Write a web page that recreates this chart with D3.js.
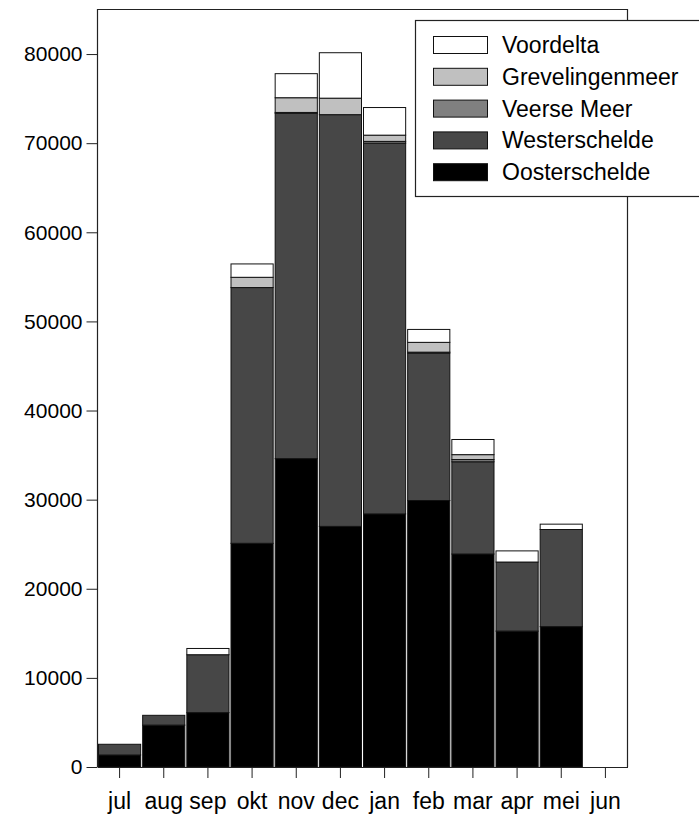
<!DOCTYPE html>
<html lang="en">
<head>
<meta charset="UTF-8">
<title>Maandtotalen per gebied</title>
<script src="https://cdnjs.cloudflare.com/ajax/libs/d3/7.8.2/d3.min.js"></script>
<style>
    body{ margin: 0; background: #fff; }
    svg{ display: block; font-family: Arial, "Liberation Sans", sans-serif; }
</style>
</head>
<body>
<div class="container"></div>
<script>
    // data
    const months = ['jul','aug','sep','okt','nov','dec','jan','feb','mar','apr','mei','jun'];
    const oosterschelde   = [1350, 4700, 6100, 25100, 34600, 27000, 28400, 29900, 23900, 15250, 15750, 0];
    const westerschelde   = [1200, 1100, 6500, 28700, 38750, 46200, 41600, 16550, 10350, 7750, 10900, 0];
    const veerseMeer      = [0, 0, 0, 0, 100, 0, 200, 100, 250, 0, 0, 0];
    const grevelingenmeer = [0, 0, 0, 1150, 1650, 1850, 700, 1100, 550, 0, 0, 0];
    const voordelta       = [0, 0, 700, 1500, 2700, 5100, 3100, 1450, 1700, 1250, 600, 0];
    const yTicks = [0, 10000, 20000, 30000, 40000, 50000, 60000, 70000, 80000];

    const series = [
        {key: 'Oosterschelde', values: oosterschelde, color: '#000000'},
        {key: 'Westerschelde', values: westerschelde, color: '#474747'},
        {key: 'Veerse Meer', values: veerseMeer, color: '#808080'},
        {key: 'Grevelingenmeer', values: grevelingenmeer, color: '#c0c0c0'},
        {key: 'Voordelta', values: voordelta, color: '#ffffff'}
    ];

    const width = 699, height = 815;
    const plotLeft = 97.5, plotRight = 627.5, plotTop = 9.5, plotBottom = 767;

    const svg = d3.select('.container').append('svg')
        .attr('width', width).attr('height', height);

    const rows = months.map((m, i) => {
        const r = {month: m};
        series.forEach(s => r[s.key] = s.values[i]);
        return r;
    });
    const stacked = d3.stack().keys(series.map(s => s.key))(rows);

    const x = d3.scaleBand().domain(months).range([plotLeft, plotRight]).paddingInner(0).paddingOuter(0);
    const y = d3.scaleLinear().domain([0, 85000]).range([plotBottom, plotTop]);

    // bars
    svg.append('g').selectAll('g')
        .data(stacked)
        .enter().append('g')
        .attr('fill', (d, i) => series[i].color)
        .selectAll('rect')
        .data(d => d.filter(p => p[1] - p[0] > 0))
        .enter().append('rect')
        .attr('x', d => x(d.data.month) + 1)
        .attr('width', x.bandwidth() - 2)
        .attr('y', d => y(d[1]))
        .attr('height', d => y(d[0]) - y(d[1]))
        .attr('stroke', '#111')
        .attr('stroke-width', 1);

    // frame
    svg.append('path')
        .attr('d', `M${plotLeft},${plotBottom}V${plotTop}H${plotRight}V${plotBottom}`)
        .attr('fill', 'none').attr('stroke', '#222').attr('stroke-width', 1.2);

    const yAxis = d3.axisLeft(y).tickValues(yTicks).tickSize(11).tickPadding(4).tickFormat(d3.format('d'));
    svg.append('g').attr('transform', `translate(${plotLeft},0)`).call(yAxis)
        .call(g => g.select('.domain').remove())
        .call(g => g.selectAll('text').attr('font-size', 21).attr('font-family', 'Arial, "Liberation Sans", sans-serif').attr('fill', '#000'))
        .call(g => g.selectAll('line').attr('stroke', '#222'));

    const xAxis = d3.axisBottom(x).tickSize(11).tickPadding(15).tickSizeOuter(0);
    svg.append('g').attr('transform', `translate(0,${plotBottom})`).call(xAxis)
        .call(g => g.select('.domain').attr('stroke', '#222').attr('stroke-width', 1.2))
        .call(g => g.selectAll('text').attr('font-size', 23).attr('font-family', 'Arial, "Liberation Sans", sans-serif').attr('fill', '#000'))
        .call(g => g.selectAll('line').attr('stroke', '#222'));

    // legend
    const legend = svg.append('g').attr('class', 'legend');
    legend.append('rect')
        .attr('x', 415.5).attr('y', 20.5).attr('width', 300).attr('height', 176)
        .attr('fill', '#fff').attr('stroke', '#222').attr('stroke-width', 1.2);

    const legendItems = series.slice().reverse();
    const item = legend.selectAll('.legend-label')
        .data(legendItems)
        .enter().append('g')
        .attr('class', 'legend-label')
        .attr('transform', (d, i) => `translate(433,${45 + i * 31.8})`);
    item.append('rect')
        .attr('x', 0.5).attr('y', -8.5).attr('width', 54).attr('height', 17)
        .attr('fill', d => d.color).attr('stroke', '#111').attr('stroke-width', 1);
    item.append('text')
        .attr('x', 69).attr('y', 0).attr('dy', '.35em')
        .attr('font-size', 23)
        .text(d => d.key);
</script>
</body>
</html>
